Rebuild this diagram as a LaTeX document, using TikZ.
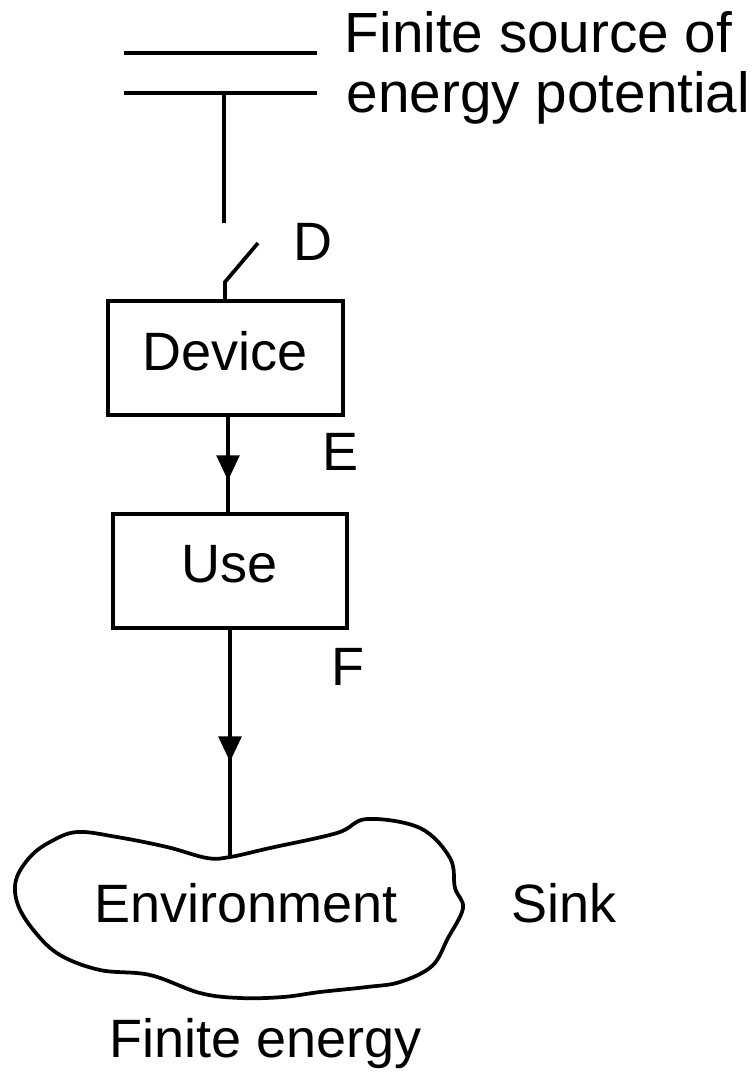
\documentclass[tikz,border=0pt]{standalone}
\usepackage{fontspec}
\setmainfont{Liberation Sans}
\usetikzlibrary{arrows.meta,decorations.markings}

\tikzset{every picture/.style={line width=2.8pt}}
\tikzset{
blockbox/.style={draw, minimum width=176pt, minimum height=86pt, inner sep=0pt, text depth=11pt, font=\fontsize{40.5}{48}\selectfont},
lbl/.style={inner sep=0pt, font=\fontsize{40.5}{48}\selectfont},
biglbl/.style={inner sep=0pt, font=\fontsize{42.5}{50}\selectfont},
midarrow/.style={postaction={decorate}, decoration={markings, mark=at position #1 with {\arrow{Triangle[length=19pt,width=17pt]}}}}}

\begin{document}
\begin{tikzpicture}[x=0.75pt,y=0.75pt,yscale=-1,xscale=1]
\useasboundingbox (0,0) rectangle (756,1077);

%Source plates
\coordinate (plateAw) at (124,53);
\coordinate (plateAe) at (317,53);
\coordinate (plateBw) at (124,93);
\coordinate (plateBe) at (317,93);
\coordinate (tap) at (224,93);
\coordinate (tapend) at (224,223);
\draw (plateAw) -- (plateAe) ;
\draw (plateBw) -- (plateBe) ;
\draw (tap) -- (tapend) ;

% Boxes
\node [blockbox] (device) at (225.5,358) {Device};
\node [blockbox] (use) at (230,571) {Use};

%Switch D
\coordinate (swhinge) at (225,282);
\coordinate (swend) at (258,243);
\draw (device.north -| swhinge) -- (swhinge) -- (swend) ;

%Cloud
\coordinate (envtop) at (230,857);
\draw plot [smooth cycle, tension=0.6] coordinates {(envtop) (270,848) (337,833) (367,819) (420,828) (450,858) (455,888) (463,908) (448,938) (432,966) (400,982) (367,987) (320,992) (283,997) (240,998) (200,993) (150,975) (100,970) (60,955) (35,932) (18,905) (16,880) (30,857) (50,842) (77,832) (117,837) (167,847) (207,858)};

%Flows
\draw [midarrow=0.67] (device.south -| 228,0) -- (use.north -| 228,0) ;
\draw [midarrow=0.58] (use.south) -- (envtop) ;

% Text Node
\node [biglbl, anchor=base west] (srcA) at (343,53) {Finite source of};
% Text Node
\node [biglbl, anchor=base west] (srcB) at (345,113) {energy potential};
% Text Node
\node [lbl, anchor=base west] (lblD) at (292,260) {D};
% Text Node
\node [lbl, anchor=base west] (lblE) at (321,470) {E};
% Text Node
\node [lbl, anchor=base west] (lblF) at (330,685) {F};
% Text Node
\node [lbl, anchor=base] (env) at (246,922) {Environment};
% Text Node
\node [lbl, anchor=base west] (sink) at (510,922) {Sink};
% Text Node
\node [lbl, anchor=base] (finite) at (266,1057) {Finite energy};

\end{tikzpicture}
\end{document}
